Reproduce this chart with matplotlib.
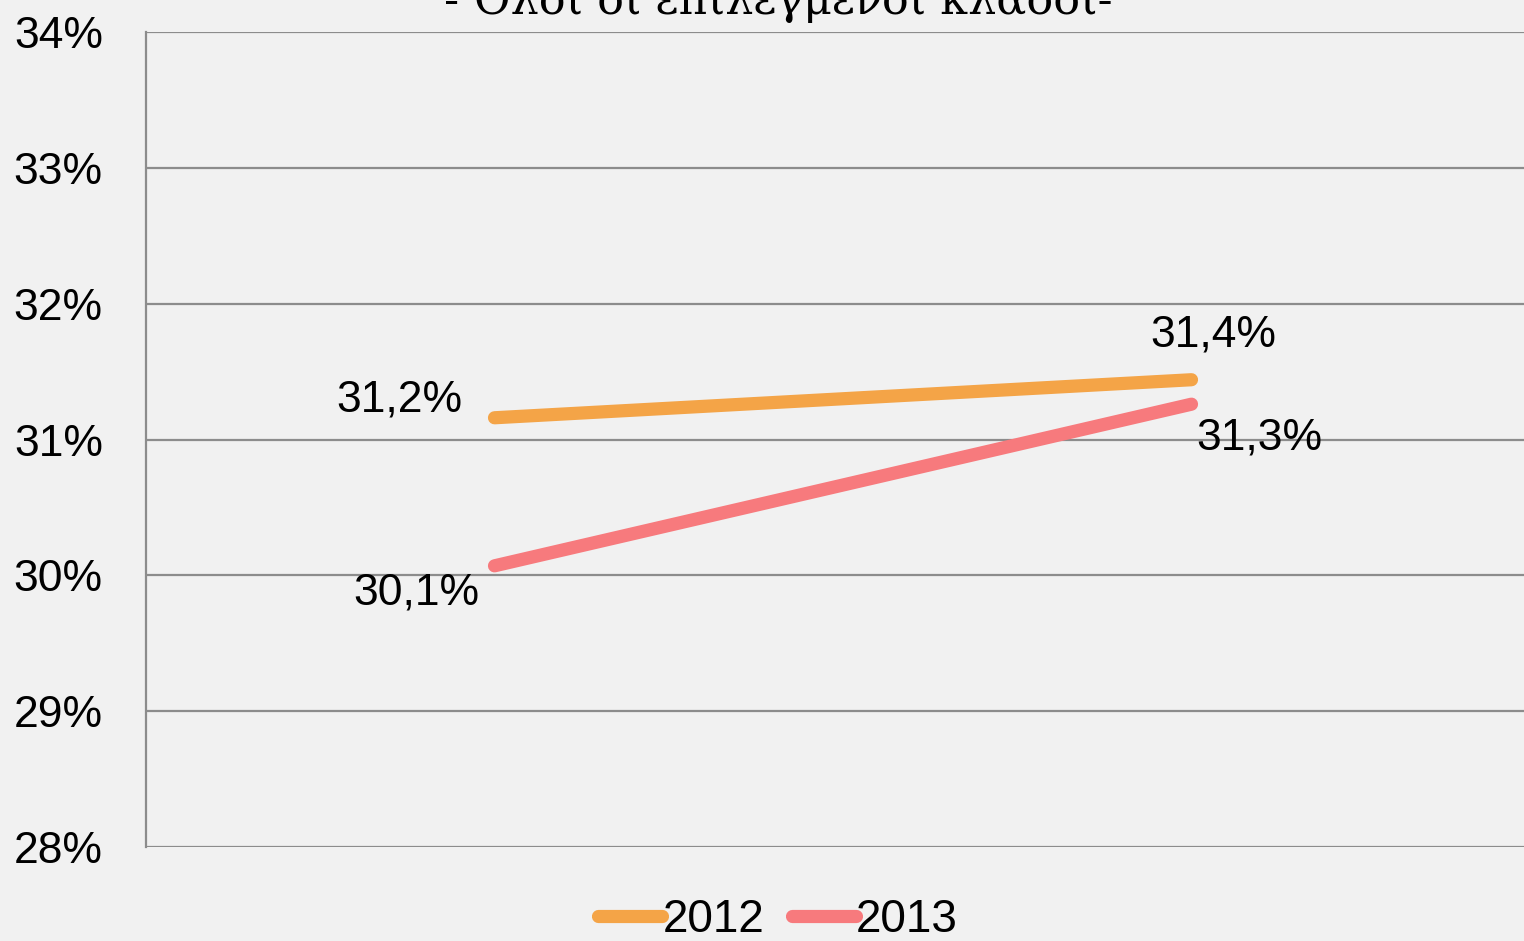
import matplotlib
matplotlib.use("Agg")
import matplotlib.pyplot as plt
from matplotlib.ticker import FuncFormatter

categories = ["A", "B"]
series_names = ["2012", "2013"]
values_2012 = [31.16, 31.44]
values_2013 = [30.07, 31.26]
yticks = [28, 29, 30, 31, 32, 33, 34]
title = "- Όλοι οι επιλεγμένοι κλάδοι-"

colors = ["#F4A447", "#F77A7D"]
bg = "#F1F1F1"

plt.rcParams['font.family'] = ['Liberation Sans', 'DejaVu Sans']

fig = plt.figure(figsize=(15.24, 9.41), dpi=100, facecolor=bg)
ax = fig.add_axes([146/1524, 1-847/941, 1394/1524, 815/941])
ax.set_facecolor(bg)

x = list(range(len(categories)))
lines = []
for vals, c, name in zip([values_2012, values_2013], colors, series_names):
    ln, = ax.plot(x, vals, color=c, lw=9.5, solid_capstyle='round', label=name)
    lines.append(ln)

def fmt(v):
    return f"{v:.1f}".replace('.', ',') + "%"

offsets_2012 = [(-95, 18), (22, 45)]
offsets_2013 = [(-78, -27), (68, -34)]
for vals, offs in zip([values_2012, values_2013], [offsets_2012, offsets_2013]):
    for xi, v, off in zip(x, vals, offs):
        ax.annotate(fmt(v), (xi, v), xytext=off, textcoords='offset pixels',
                    ha='center', va='center', fontsize=32, color='black')

ax.set_xlim(-0.5, 1.5)
ax.set_ylim(28, 34)
ax.set_yticks(yticks)
ax.yaxis.set_major_formatter(FuncFormatter(lambda v, p: f"{v:.0f}%"))
ax.tick_params(axis='y', length=0, labelsize=32, pad=31)
ax.set_xticks([])
ax.grid(axis='y', color='#8C8C8C', lw=1.6)
ax.set_axisbelow(True)
for s in ['top', 'right', 'bottom']:
    ax.spines[s].set_visible(False)
ax.spines['left'].set_color('#8C8C8C')
ax.spines['left'].set_linewidth(1.6)

fig.text(778/1524, 1-14/941, title, ha='center', va='baseline', fontsize=32,
         family=['DejaVu Serif'])

leg = fig.legend(handles=lines, loc='center', bbox_to_anchor=(778/1524, 1-920/941),
                 ncol=2, frameon=False, fontsize=33, handlelength=1.4,
                 handletextpad=0.0, columnspacing=0.6)

fig.savefig("out.png", dpi=100, facecolor=bg)
